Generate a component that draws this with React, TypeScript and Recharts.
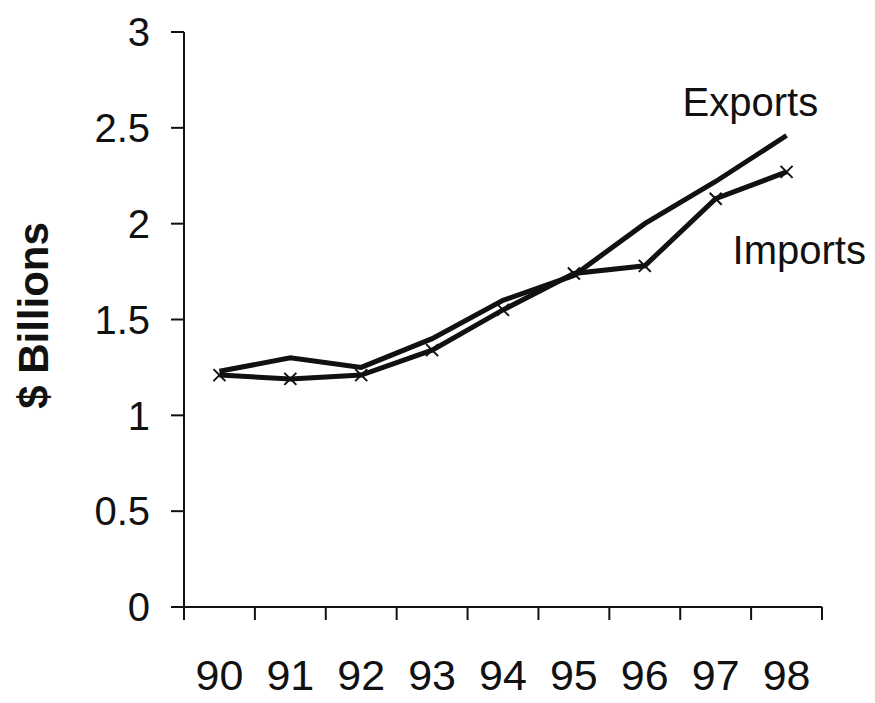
import { LineChart, Line, XAxis, YAxis, LabelList } from 'recharts'

const years = ['90', '91', '92', '93', '94', '95', '96', '97', '98']
const exportsValues = [1.23, 1.3, 1.25, 1.4, 1.6, 1.73, 2.0, 2.22, 2.46]
const importsValues = [1.21, 1.19, 1.21, 1.34, 1.55, 1.74, 1.78, 2.13, 2.27]
const yTicks = [0, 0.5, 1, 1.5, 2, 2.5, 3]

const data = years.map((year, i) => ({
  year,
  exports: exportsValues[i],
  imports: importsValues[i],
}))

const FONT = '"Liberation Sans", Arial, sans-serif'
const INK = '#111'

function XTick(props: any) {
  const { x, y, payload, index } = props
  const half = payload.offset ?? 0
  const last = index === years.length - 1
  return (
    <g>
      <line x1={x - half} y1={y} x2={x - half} y2={y + 13} stroke={INK} strokeWidth={2} />
      {last && <line x1={x + half} y1={y} x2={x + half} y2={y + 13} stroke={INK} strokeWidth={2} />}
      <text x={x} y={y + 83} textAnchor="middle" fontSize={43} fontFamily={FONT} fill={INK}>
        {payload.value}
      </text>
    </g>
  )
}

function CrossDot(props: any) {
  const { cx, cy } = props
  if (cx == null || cy == null) return null
  const s = 6
  return (
    <g>
      <line x1={cx - s} y1={cy - s} x2={cx + s} y2={cy + s} stroke={INK} strokeWidth={2} />
      <line x1={cx - s} y1={cy + s} x2={cx + s} y2={cy - s} stroke={INK} strokeWidth={2} />
    </g>
  )
}

function seriesLabel(text: string, dx: number, dy: number) {
  return (props: any) => {
    const { x, y, index } = props
    if (index !== years.length - 1) return null
    return (
      <text x={x + dx} y={y + dy} fontSize={40} fontFamily={FONT} fill={INK}>
        {text}
      </text>
    )
  }
}

function YTitle(props: any) {
  const { viewBox } = props
  const cx = 33
  const cy = viewBox.y + viewBox.height / 2 - 4
  return (
    <text
      x={cx}
      y={cy}
      transform={`rotate(-90 ${cx} ${cy})`}
      textAnchor="middle"
      dominantBaseline="central"
      fontSize={42}
      fontWeight="bold"
      fontFamily={FONT}
      fill={INK}
    >
      $ Billions
    </text>
  )
}

export default function App() {
  return (
    <div style={{ position: 'absolute', left: 0, top: 0, background: '#fff' }}>
      <LineChart
        width={875}
        height={703}
        data={data}
        margin={{ top: 32, right: 53, bottom: 0, left: 0 }}
      >
        <XAxis
          dataKey="year"
          scale="band"
          height={96}
          tickLine={false}
          tickSize={0}
          tickMargin={0}
          interval={0}
          axisLine={{ stroke: INK, strokeWidth: 2 }}
          tick={<XTick />}
        />
        <YAxis
          width={184}
          domain={[0, 3]}
          ticks={yTicks}
          interval={0}
          tickSize={13}
          tickMargin={21}
          axisLine={{ stroke: INK, strokeWidth: 2 }}
          tickLine={{ stroke: INK, strokeWidth: 2 }}
          tick={{ fontSize: 40, fontFamily: FONT, fill: INK }}
          label={<YTitle />}
        />
        <Line
          type="linear"
          dataKey="exports"
          stroke={INK}
          strokeWidth={5}
          dot={false}
          isAnimationActive={false}
        >
          <LabelList dataKey="exports" content={seriesLabel('Exports', -104, -20)} />
        </Line>
        <Line
          type="linear"
          dataKey="imports"
          stroke={INK}
          strokeWidth={5}
          dot={<CrossDot />}
          activeDot={false}
          isAnimationActive={false}
        >
          <LabelList dataKey="imports" content={seriesLabel('Imports', -54, 92)} />
        </Line>
      </LineChart>
    </div>
  )
}
